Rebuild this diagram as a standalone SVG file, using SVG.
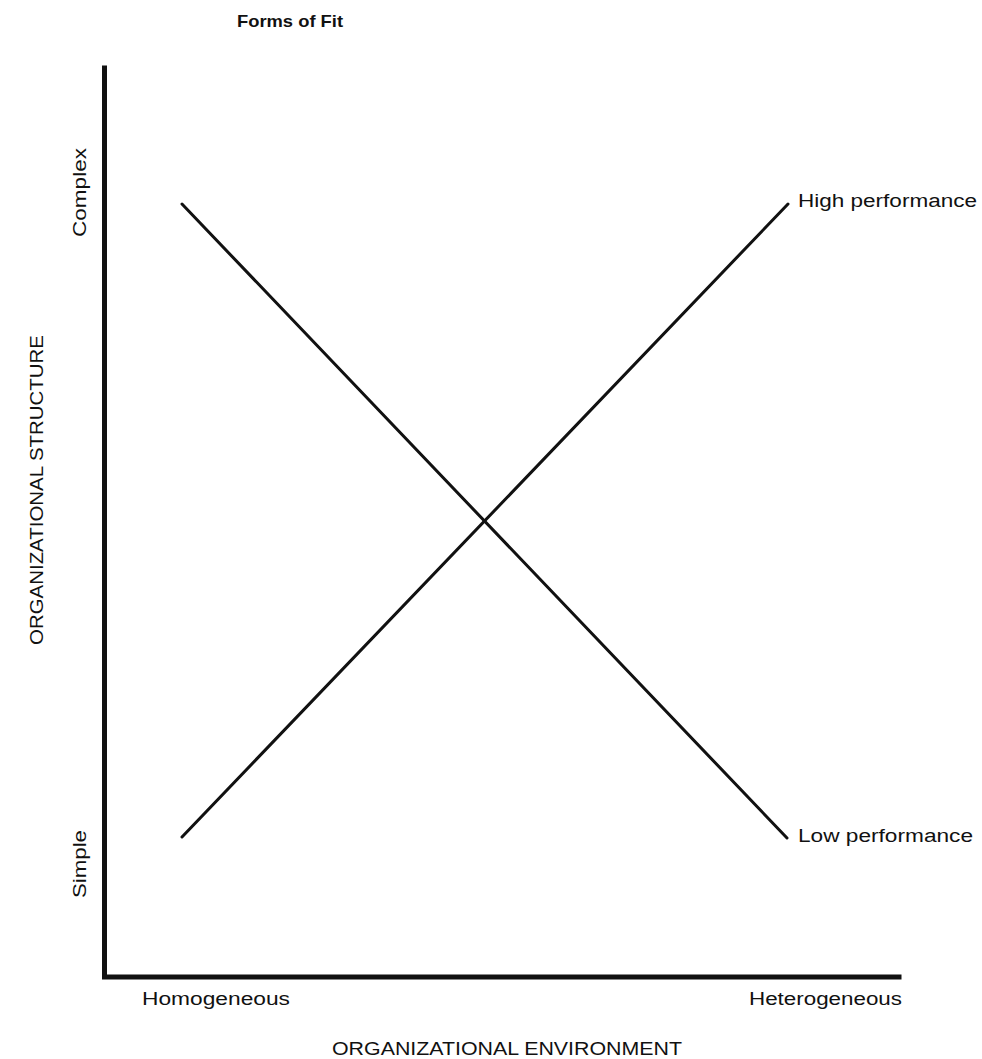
<svg xmlns="http://www.w3.org/2000/svg" width="982" height="1059" viewBox="0 0 982 1059">
<style>
text{font-family:"Liberation Sans",Arial,sans-serif;fill:#111;}
.lbl{font-size:18px;}
.title{font-size:16.5px;font-weight:bold;}
.axis{stroke:#111;stroke-width:5;fill:none;stroke-linecap:square;}
.line{stroke:#111;stroke-width:3;fill:none;stroke-linecap:round;}
</style>
<rect width="982" height="1059" fill="#fff"/>
<text class="title" x="237" y="27" textLength="106" lengthAdjust="spacingAndGlyphs">Forms of Fit</text>
<g id="axes">
<path class="axis" d="M104.5 68 V977 H899"/>
</g>
<g id="connectors">
<line id="high" class="line" x1="182" y1="837" x2="788" y2="204"/>
<line id="low" class="line" x1="182" y1="204" x2="787" y2="838"/>
</g>
<g id="y-labels">
<text class="lbl" transform="translate(86,237) rotate(-90)" textLength="89" lengthAdjust="spacingAndGlyphs">Complex</text>
<text class="lbl" transform="translate(86,898) rotate(-90)" textLength="68" lengthAdjust="spacingAndGlyphs">Simple</text>
<text class="lbl" transform="translate(43,645) rotate(-90)" textLength="310" lengthAdjust="spacingAndGlyphs">ORGANIZATIONAL STRUCTURE</text>
</g>
<g id="x-labels">
<text class="lbl" x="142" y="1005" textLength="148" lengthAdjust="spacingAndGlyphs">Homogeneous</text>
<text class="lbl" x="749" y="1005" textLength="153" lengthAdjust="spacingAndGlyphs">Heterogeneous</text>
<text class="lbl" x="332" y="1055" textLength="350" lengthAdjust="spacingAndGlyphs">ORGANIZATIONAL ENVIRONMENT</text>
</g>
<g id="line-labels">
<text class="lbl" x="798" y="207" textLength="179" lengthAdjust="spacingAndGlyphs">High performance</text>
<text class="lbl" x="798" y="842" textLength="175" lengthAdjust="spacingAndGlyphs">Low performance</text>
</g>
</svg>
